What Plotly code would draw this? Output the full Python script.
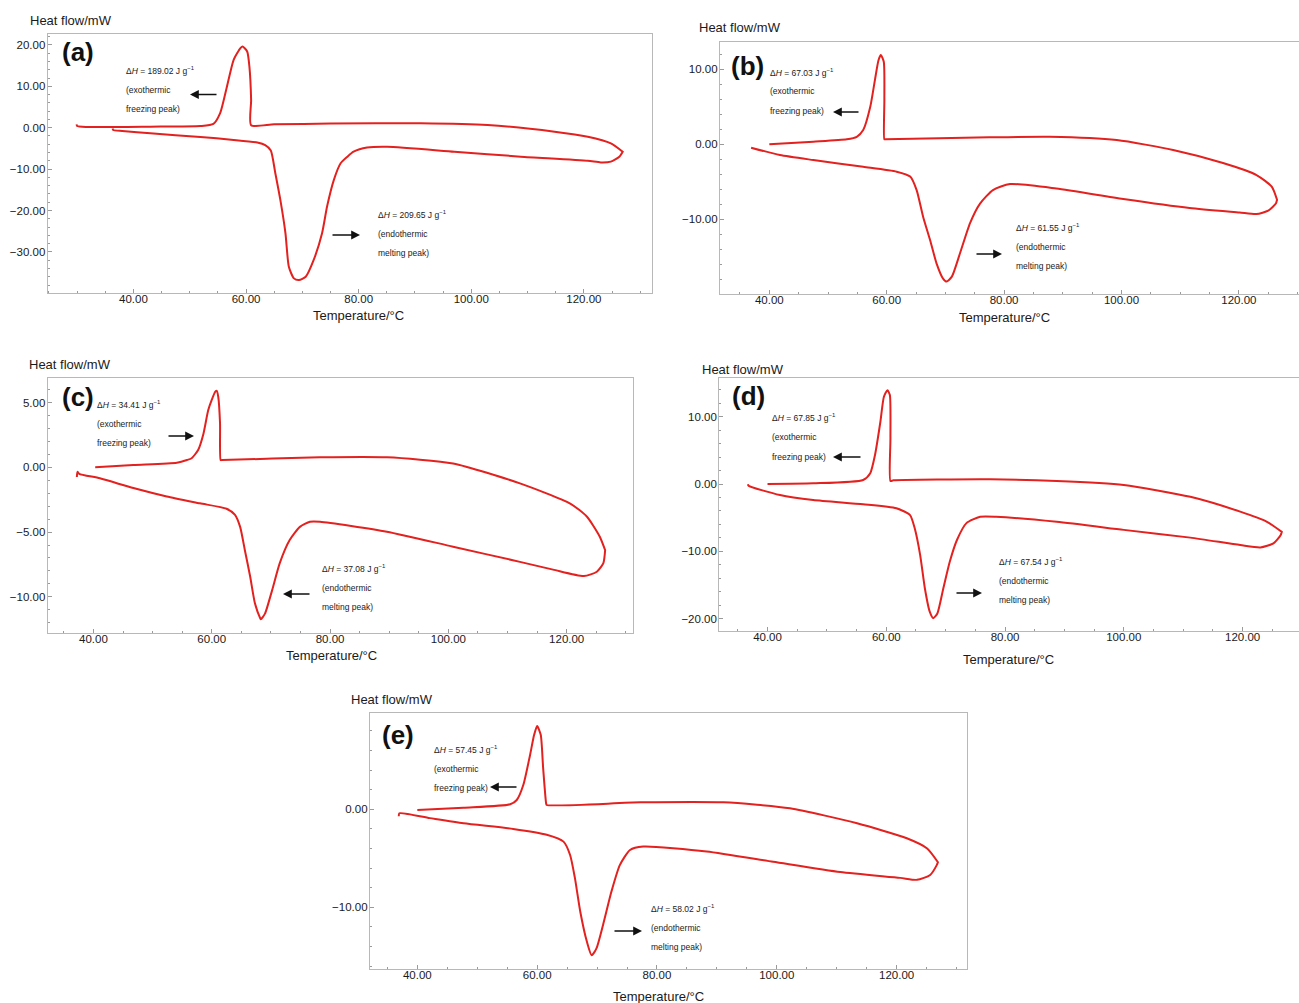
import plotly.graph_objects as go

# ---------------- data ----------------
# Panel (a)
a_heat_T = [36.3, 36.4, 38.0, 43.0, 51.9, 57.8, 62.0, 63.4, 64.4, 65.2, 66.1, 67.0, 67.6, 68.5, 69.4, 70.6, 72.0, 73.5, 74.4, 75.6, 76.8, 78.0, 79.1, 81.5, 85.1, 97.0, 108.8, 120.7, 123.0, 124.8, 126.3, 126.9]
a_heat_H = [-0.2, -0.55, -0.8, -1.36, -2.25, -2.95, -3.6, -4.2, -5.5, -11.0, -17.5, -25.5, -33.6, -36.4, -36.8, -36.0, -32.0, -25.5, -19.0, -12.6, -8.6, -7.0, -5.8, -4.8, -4.6, -5.8, -7.0, -8.0, -8.4, -8.2, -7.0, -5.8]
a_cool_T = [126.9, 124.8, 120.7, 114.8, 102.9, 91.0, 75.0, 65.0, 60.9, 60.9, 60.6, 60.2, 59.4, 59.0, 57.8, 56.6, 55.4, 54.2, 51.9, 43.0, 31.7, 30.0, 29.9]
a_cool_H = [-5.8, -3.8, -2.2, -0.97, 0.65, 1.05, 1.0, 0.8, 0.6, 6.7, 14.7, 18.4, 19.6, 19.2, 16.4, 9.9, 3.5, 0.9, 0.4, 0.25, 0.17, 0.4, 0.8]

# Panel (b)
b_heat_T = [36.9, 41.8, 47.5, 56.0, 61.7, 64.0, 65.1, 66.2, 67.4, 68.5, 69.6, 70.2, 71.1, 72.5, 74.2, 75.9, 78.1, 81.0, 88.9, 100.3, 111.6, 120.1, 123.0, 125.0, 126.3, 126.5]
b_heat_H = [-0.45, -1.43, -2.1, -3.0, -3.65, -4.3, -6.1, -9.65, -12.8, -15.9, -17.9, -18.3, -17.65, -14.5, -10.5, -7.9, -6.1, -5.3, -5.9, -7.3, -8.5, -9.1, -9.3, -8.85, -7.9, -7.4]
b_cool_T = [126.5, 125.6, 123.0, 117.3, 108.8, 99.2, 87.8, 77.5, 59.8, 59.6, 59.6, 59.5, 59.0, 58.6, 58.0, 57.2, 56.0, 54.9, 53.2, 47.5, 40.0]
b_cool_H = [-7.4, -5.65, -4.1, -2.5, -0.76, 0.57, 1.0, 0.93, 0.67, 0.67, 5.9, 11.0, 11.9, 11.2, 8.6, 5.0, 1.9, 1.0, 0.67, 0.35, 0.0]

# Panel (c)
c_heat_T = [37.2, 37.3, 37.6, 41.1, 46.75, 52.4, 58.0, 62.5, 63.9, 64.8, 65.6, 66.5, 67.3, 68.2, 68.3, 69.0, 70.2, 71.5, 73.2, 74.9, 76.6, 78.3, 89.6, 100.8, 112.1, 117.7, 122.9, 125.1, 126.2, 126.5]
c_heat_H = [-0.75, -0.35, -0.5, -0.85, -1.6, -2.25, -2.78, -3.2, -3.65, -4.6, -6.4, -8.45, -10.5, -11.66, -11.74, -11.3, -9.5, -7.4, -5.6, -4.6, -4.2, -4.2, -4.97, -6.13, -7.3, -7.9, -8.4, -8.06, -7.4, -6.4]
c_cool_T = [126.5, 125.6, 123.4, 120.6, 112.1, 100.8, 89.6, 78.3, 61.7, 61.5, 61.4, 61.1, 60.85, 60.6, 60.0, 59.4, 58.6, 57.7, 56.6, 55.8, 54.1, 46.75, 40.3]
c_cool_H = [-6.4, -5.36, -3.8, -2.8, -1.24, 0.3, 0.77, 0.77, 0.56, 0.56, 3.4, 5.45, 5.9, 5.84, 5.2, 4.4, 2.6, 1.34, 0.7, 0.56, 0.36, 0.18, 0.0]

# Panel (d)
d_heat_T = [36.7, 36.8, 42.1, 47.7, 56.1, 61.7, 64.0, 64.8, 65.7, 66.5, 67.3, 67.9, 68.6, 69.6, 70.7, 71.9, 73.5, 75.8, 78.5, 88.7, 100.0, 111.2, 119.6, 123.0, 125.2, 126.4, 126.6]
d_heat_H = [-0.05, -0.25, -1.63, -2.37, -3.0, -3.6, -4.6, -6.6, -10.5, -15.5, -18.9, -19.9, -19.2, -15.5, -11.5, -8.3, -5.8, -4.85, -4.85, -5.6, -6.8, -7.95, -9.05, -9.4, -8.8, -7.6, -7.1]
d_cool_T = [126.6, 124.1, 119.6, 111.2, 100.0, 88.7, 77.5, 61.2, 60.7, 60.7, 60.6, 60.2, 59.6, 59.0, 58.1, 57.3, 56.1, 47.7, 40.0]
d_cool_H = [-7.1, -5.6, -4.1, -1.9, -0.15, 0.45, 0.7, 0.55, 0.45, 6.8, 13.2, 13.9, 12.95, 9.2, 4.3, 1.6, 0.6, 0.1, 0.0]

# Panel (e)
e_heat_T = [36.9, 37.0, 42.1, 47.7, 56.0, 61.6, 64.4, 65.5, 66.3, 67.2, 68.3, 69.1, 69.9, 71.0, 72.4, 73.8, 75.5, 77.7, 88.3, 99.4, 110.6, 120.6, 123.4, 125.6, 126.7, 126.9]
e_heat_H = [-0.7, -0.4, -0.9, -1.43, -2.0, -2.6, -3.3, -4.66, -7.0, -10.45, -13.5, -14.9, -14.2, -11.8, -8.4, -5.7, -4.15, -3.8, -4.3, -5.35, -6.4, -7.0, -7.2, -6.7, -5.7, -5.4]
e_cool_T = [126.9, 125.1, 121.7, 113.4, 102.2, 91.1, 77.2, 61.6, 61.5, 61.0, 60.6, 60.0, 59.5, 58.8, 57.7, 56.6, 55.5, 47.7, 40.0]
e_cool_H = [-5.4, -4.0, -2.96, -1.43, 0.1, 0.71, 0.71, 0.44, 0.6, 4.2, 7.6, 8.5, 7.6, 5.5, 2.5, 0.95, 0.51, 0.17, -0.07]

panel_labels = ["(a)", "(b)", "(c)", "(d)", "(e)"]
exo_dH = ["189.02", "67.03", "34.41", "67.85", "57.45"]
endo_dH = ["209.65", "61.55", "37.08", "67.54", "58.02"]
x_tick_step = 20
y_tick_steps = [10, 10, 5, 10, 10]
y_minor_steps = [2, 2, 1, 2, 2]

# ---------------- layout helpers ----------------
W, H = 1299, 1003
FONT = "Arial, Liberation Sans, Helvetica, sans-serif"


def px(x):
    return x / W


def py(y):
    return 1 - y / H


# plot boxes in pixels (left, top, right, bottom) and axis ranges
boxes = [
    (47.7, 33.7, 651.7, 292.7),
    (720.0, 41.7, 1299.0, 294.0),
    (47.7, 377.7, 633.3, 632.7),
    (719.3, 377.7, 1299.0, 631.0),
    (370.0, 712.7, 967.3, 969.0),
]
xranges = [[24.77, 132.05], [31.6, 130.24], [32.27, 131.26], [31.88, 129.5], [32.1, 131.8]]
yranges = [[-39.86, 22.7], [-19.96, 13.68], [-12.77, 6.92], [-21.8, 15.77], [-16.3, 9.86]]

heat = [(a_heat_T, a_heat_H), (b_heat_T, b_heat_H), (c_heat_T, c_heat_H), (d_heat_T, d_heat_H), (e_heat_T, e_heat_H)]
cool = [(a_cool_T, a_cool_H), (b_cool_T, b_cool_H), (c_cool_T, c_cool_H), (d_cool_T, d_cool_H), (e_cool_T, e_cool_H)]

# annotation pixel positions
ylabel_pos = [(28, 20), (697, 28), (27, 364), (700, 370), (349, 699)]
xlabel_pos = [(358, 315), (1004, 318), (331, 655), (1008, 659), (658, 996)]
label_pos = [(60, 52), (729, 66), (60, 397), (730, 396), (380, 735)]
exo_text = [(124, 70), (768, 72), (95, 404), (770, 418), (432, 749)]
endo_text = [(376, 214), (1014, 227), (320, 568), (997, 561), (649, 908)]
exo_arrow = [((218, 94.5), (190, 94.5)), ((860, 112), (833, 112)), ((167, 436), (194, 436)),
             ((862, 457), (833, 457)), ((518, 787), (490, 787))]
endo_arrow = [((331, 235), (360, 235)), ((975, 254), (1002, 254)), ((311, 594), (283, 594)),
              ((955, 593), (982, 593)), ((613, 931), (642, 931))]

fig = go.Figure()
annotations = []
LINE_RED = "#e3211e"
TEXT = "#1a1a1a"
TICK = "#9a9a9a"

for i in range(5):
    xa = "x" if i == 0 else f"x{i+1}"
    ya = "y" if i == 0 else f"y{i+1}"
    T = list(heat[i][0]) + list(cool[i][0])
    Hf = list(heat[i][1]) + list(cool[i][1])
    fig.add_trace(go.Scatter(x=T, y=Hf, mode="lines", xaxis=xa, yaxis=ya,
                             line=dict(color=LINE_RED, width=2, shape="spline", smoothing=0.6),
                             showlegend=False, hoverinfo="skip"))
    l, t, r, b = boxes[i]
    axcommon = dict(showline=True, linecolor="#b8b8b8", linewidth=1.2, mirror=True,
                    showgrid=False, zeroline=False, ticks="inside", ticklen=4,
                    tickcolor=TICK, tickwidth=1, tickformat=".2f",
                    tickfont=dict(family=FONT, size=11.5, color=TEXT))
    xkey = "xaxis" if i == 0 else f"xaxis{i+1}"
    ykey = "yaxis" if i == 0 else f"yaxis{i+1}"
    fig.update_layout({
        xkey: dict(domain=[px(l), px(r)], range=xranges[i], anchor=ya,
                   tickmode="linear", tick0=0, dtick=x_tick_step, ticklabelstandoff=-5,
                   minor=dict(ticks="inside", ticklen=2, tickcolor=TICK, dtick=5, tick0=0, showgrid=False),
                   **axcommon),
        ykey: dict(domain=[py(b), py(t)], range=yranges[i], anchor=xa,
                   tickmode="linear", tick0=0, dtick=y_tick_steps[i], ticklabelstandoff=-1,
                   minor=dict(ticks="inside", ticklen=2, tickcolor=TICK, dtick=y_minor_steps[i], tick0=0, showgrid=False),
                   **axcommon),
    })
    # axis titles
    annotations.append(dict(xref="paper", yref="paper", x=px(ylabel_pos[i][0]), y=py(ylabel_pos[i][1]),
                            text="Heat flow/mW", showarrow=False, xanchor="left", yanchor="middle",
                            font=dict(family=FONT, size=13, color=TEXT)))
    annotations.append(dict(xref="paper", yref="paper", x=px(xlabel_pos[i][0]), y=py(xlabel_pos[i][1]),
                            text="Temperature/°C", showarrow=False, xanchor="center", yanchor="middle",
                            font=dict(family=FONT, size=13, color=TEXT)))
    # panel label
    annotations.append(dict(xref="paper", yref="paper", x=px(label_pos[i][0]), y=py(label_pos[i][1]),
                            text=f"<b>{panel_labels[i]}</b>", showarrow=False, xanchor="left", yanchor="middle",
                            font=dict(family=FONT, size=26, color="#111111")))
    # enthalpy texts
    for (tx, ty), dh, kind in ((exo_text[i], exo_dH[i], ("(exothermic", "freezing peak)")),
                               (endo_text[i], endo_dH[i], ("(endothermic", "melting peak)"))):
        lines = [f"Δ<i>H</i> = {dh} J g<sup>−1</sup>", kind[0], kind[1]]
        for k, s in enumerate(lines):
            annotations.append(dict(xref="paper", yref="paper", x=px(tx), y=py(ty + k * 19.5),
                                    text=s, showarrow=False, xanchor="left", yanchor="middle",
                                    font=dict(family=FONT, size=8.5, color=TEXT)))
    # arrows (tail offset in pixels from the head)
    for (tail, head) in (exo_arrow[i], endo_arrow[i]):
        annotations.append(dict(xref="paper", yref="paper", axref="pixel", ayref="pixel",
                                x=px(head[0]), y=py(head[1]), ax=tail[0] - head[0], ay=tail[1] - head[1],
                                text="", showarrow=True, arrowhead=2, arrowsize=1.1, arrowwidth=1.6,
                                arrowcolor="#111111", font=dict(size=8)))

fig.update_layout(width=W, height=H, margin=dict(l=0, r=0, t=0, b=0),
                  paper_bgcolor="white", plot_bgcolor="white",
                  annotations=annotations, showlegend=False)

fig.write_html("out.html", config={"displayModeBar": False},
               post_script="document.body.style.margin='0';document.body.style.overflow='hidden';")
